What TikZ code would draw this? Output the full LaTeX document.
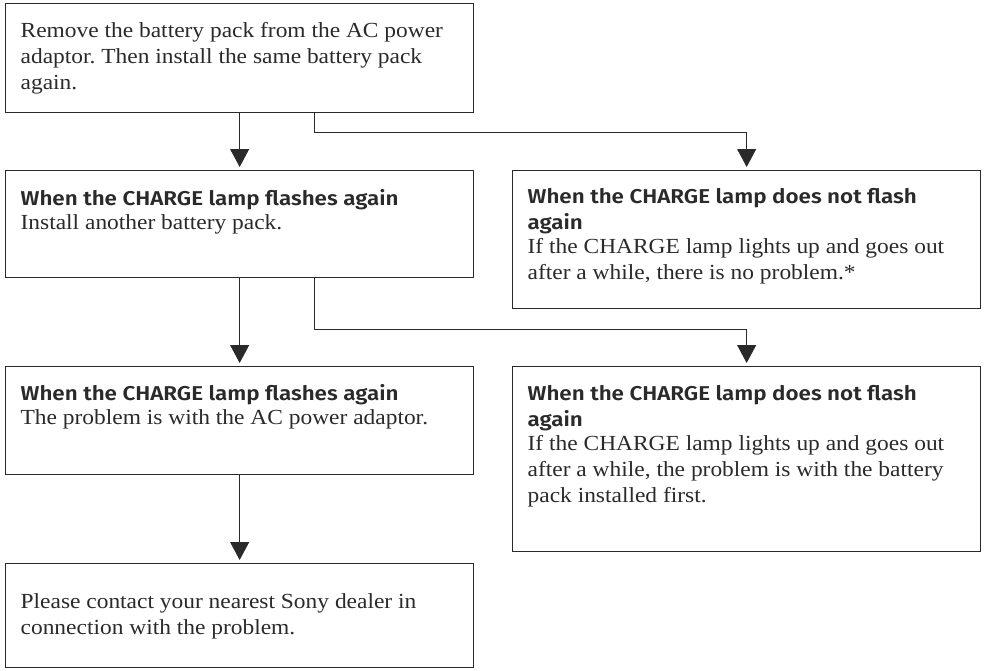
\documentclass[tikz,border=0pt]{standalone}
\usepackage{fontspec}
\setmainfont{Liberation Serif}[FakeStretch=1.09]
\newfontfamily\headfont{Fira Sans SemiBold}[FakeStretch=1.12]
\usetikzlibrary{arrows.meta}
\definecolor{ink}{HTML}{2A2A2A}

% box text: total height, first baseline offset, contents
\newcommand{\boxtext}[3]{\parbox[t][#1][t]{438pt}{\raggedright\frenchspacing\rule{0pt}{#2}#3}}
\newcommand{\head}[1]{{\headfont\fontsize{20}{25}\selectfont #1}\\[-2pt]}

\begin{document}
\begin{tikzpicture}[x=1pt, y=-1pt,
    >={Triangle[width=19pt, length=18pt]},
    box/.style={draw=ink, line width=1.3pt, anchor=north west, inner xsep=15pt,
        inner ysep=0pt, text=ink, font=\fontsize{21.5}{26}\selectfont},
    link/.style={draw=ink, line width=1pt, ->, shorten >=3pt},
]
\useasboundingbox (0,0) rectangle (984,670);

% left column
\node[box] (remove) at (5,3) {\boxtext{109pt}{34pt}{Remove the battery pack from the AC power\\
    adaptor. Then install the same battery pack\\ again.}};
\node[box] (flashA) at (5,170) {\boxtext{107pt}{35pt}{\head{When the CHARGE lamp flashes again}
    Install another battery pack.}};
\node[box] (flashB) at (5,366) {\boxtext{108pt}{34pt}{\head{When the CHARGE lamp flashes again}
    The problem is with the AC power adaptor.}};
\node[box] (contact) at (5,563) {\boxtext{104pt}{45pt}{Please contact your nearest Sony dealer in\\
    connection with the problem.}};

% right column
\node[box] (notA) at (512,170) {\boxtext{138pt}{33pt}{\head{When the CHARGE lamp does not flash\\ again}
    If the CHARGE lamp lights up and goes out\\ after a while, there is no problem.*}};
\node[box] (notB) at (512,366) {\boxtext{185pt}{34pt}{\head{When the CHARGE lamp does not flash\\ again}
    If the CHARGE lamp lights up and goes out\\ after a while, the problem is with the battery\\
    pack installed first.}};

% connectors
\draw[link] (remove) -- (flashA);
\draw[link] ([xshift=75pt]remove.south) -- ++(0,19) -| (notA.north);
\draw[link] (flashA) -- (flashB);
\draw[link] ([xshift=75pt]flashA.south) -- ++(0,51) -| (notB.north);
\draw[link] (flashB) -- (contact);

\end{tikzpicture}
\end{document}
